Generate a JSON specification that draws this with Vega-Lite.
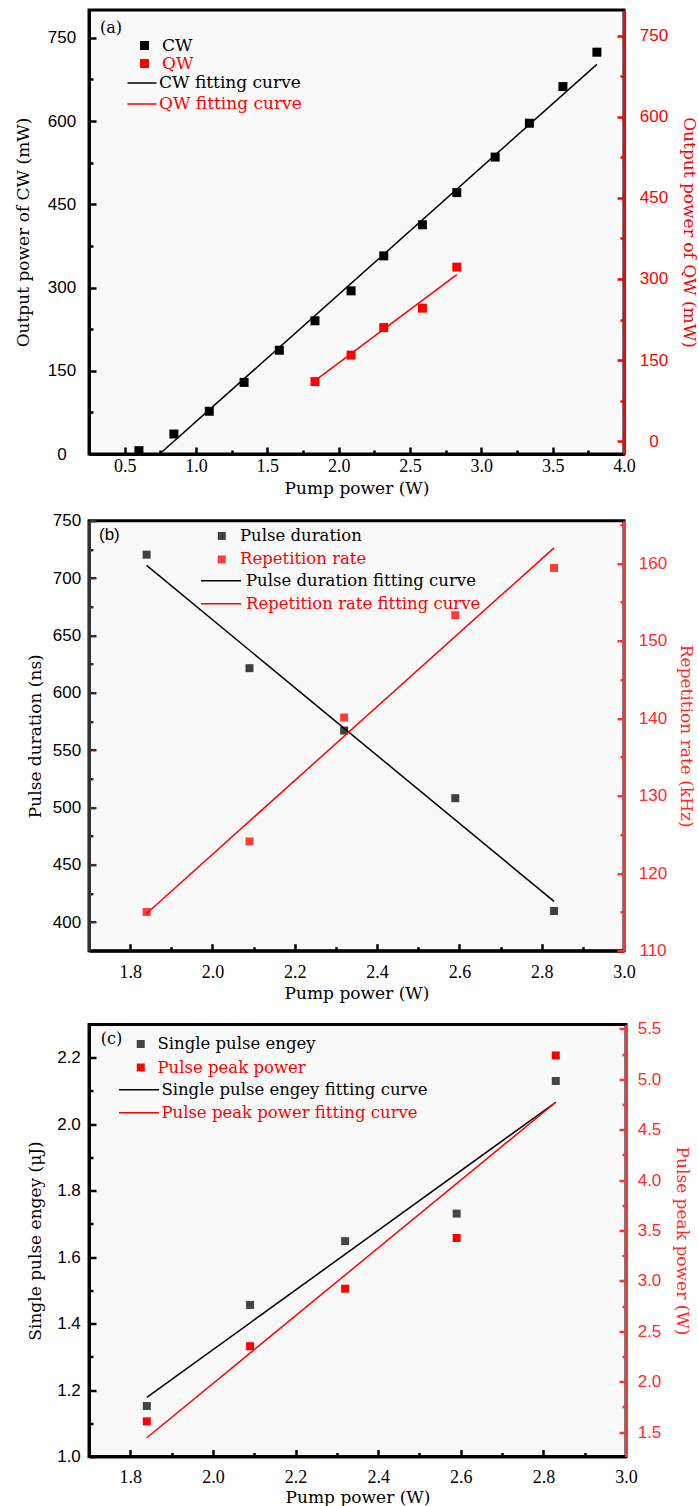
{
  "$schema": "https://vega.github.io/schema/vega-lite/v6.json",
  "background": "#ffffff",
  "padding": {"left": 12, "top": 8, "right": 0, "bottom": 0},
  "config": {
    "view": {"fill": "#f9f9f9", "stroke": "#000000", "strokeWidth": 3},
    "axis": {"grid": false, "ticks": true, "zindex": 1, "tickOpacity": 1, "labelFlush": false, "labelOverlap": false, "labelBound": false, "labelLimit": 400},
    "legend": {"padding": 0, "labelLimit": 400}
  },
  "datasets": {
    "a_cw": [
      {"pump": 0.6, "power": 6, "series": "CW"},
      {"pump": 0.845, "power": 36, "series": "CW"},
      {"pump": 1.093, "power": 77, "series": "CW"},
      {"pump": 1.337, "power": 129, "series": "CW"},
      {"pump": 1.584, "power": 187, "series": "CW"},
      {"pump": 1.834, "power": 240, "series": "CW"},
      {"pump": 2.087, "power": 294, "series": "CW"},
      {"pump": 2.316, "power": 357, "series": "CW"},
      {"pump": 2.587, "power": 413, "series": "CW"},
      {"pump": 2.828, "power": 471, "series": "CW"},
      {"pump": 3.097, "power": 535, "series": "CW"},
      {"pump": 3.337, "power": 596, "series": "CW"},
      {"pump": 3.572, "power": 662, "series": "CW"},
      {"pump": 3.81, "power": 724, "series": "CW"}
    ],
    "a_cwfit": [
      {"pump": 0.745, "power": 0, "series": "CW fitting curve"},
      {"pump": 3.81, "power": 702, "series": "CW fitting curve"}
    ],
    "a_qw": [
      {"pump": 1.834, "power": 110, "series": "QW"},
      {"pump": 2.087, "power": 159, "series": "QW"},
      {"pump": 2.316, "power": 210, "series": "QW"},
      {"pump": 2.587, "power": 246, "series": "QW"},
      {"pump": 2.828, "power": 322, "series": "QW"}
    ],
    "a_qwfit": [
      {"pump": 1.834, "power": 112, "series": "QW fitting curve"},
      {"pump": 2.828, "power": 308, "series": "QW fitting curve"}
    ],
    "b_pd": [
      {"pump": 1.84, "value": 720.4, "series": "Pulse duration"},
      {"pump": 2.09, "value": 621.4, "series": "Pulse duration"},
      {"pump": 2.32, "value": 567, "series": "Pulse duration"},
      {"pump": 2.59, "value": 508, "series": "Pulse duration"},
      {"pump": 2.83, "value": 409.6, "series": "Pulse duration"}
    ],
    "b_pdfit": [
      {"pump": 1.84, "value": 711, "series": "Pulse duration fitting curve"},
      {"pump": 2.83, "value": 418, "series": "Pulse duration fitting curve"}
    ],
    "b_rr": [
      {"pump": 1.84, "value": 115, "series": "Repetition rate"},
      {"pump": 2.09, "value": 124.1, "series": "Repetition rate"},
      {"pump": 2.32, "value": 140.1, "series": "Repetition rate"},
      {"pump": 2.59, "value": 153.3, "series": "Repetition rate"},
      {"pump": 2.83, "value": 159.4, "series": "Repetition rate"}
    ],
    "b_rrfit": [
      {"pump": 1.84, "value": 114.8, "series": "Repetition rate fitting curve"},
      {"pump": 2.83, "value": 162, "series": "Repetition rate fitting curve"}
    ],
    "c_e": [
      {"pump": 1.84, "value": 1.152, "series": "Single pulse engey"},
      {"pump": 2.09, "value": 1.456, "series": "Single pulse engey"},
      {"pump": 2.32, "value": 1.648, "series": "Single pulse engey"},
      {"pump": 2.59, "value": 1.731, "series": "Single pulse engey"},
      {"pump": 2.83, "value": 2.13, "series": "Single pulse engey"}
    ],
    "c_efit": [
      {"pump": 1.84, "value": 1.178, "series": "Single pulse engey fitting curve"},
      {"pump": 2.83, "value": 2.066, "series": "Single pulse engey fitting curve"}
    ],
    "c_p": [
      {"pump": 1.84, "value": 1.606, "series": "Pulse peak power"},
      {"pump": 2.09, "value": 2.351, "series": "Pulse peak power"},
      {"pump": 2.32, "value": 2.922, "series": "Pulse peak power"},
      {"pump": 2.59, "value": 3.425, "series": "Pulse peak power"},
      {"pump": 2.83, "value": 5.236, "series": "Pulse peak power"}
    ],
    "c_pfit": [
      {"pump": 1.84, "value": 1.443, "series": "Pulse peak power fitting curve"},
      {"pump": 2.83, "value": 4.772, "series": "Pulse peak power fitting curve"}
    ]
  },
  "bounds": "flush",
  "spacing": 66.7,
  "resolve": {"scale": {"fill": "independent", "stroke": "independent"}},
  "vconcat": [
    {
      "width": 535,
      "height": 444,
      "title": {"text": "(a)", "anchor": "start", "frame": "group", "orient": "top", "offset": -34, "dx": 11, "baseline": "middle", "font": "DejaVu Serif", "fontSize": 16, "fontWeight": "normal", "color": "#000000"},
      "resolve": {"scale": {"y": "independent"}},
      "encoding": {
        "x": {"field": "pump", "type": "quantitative", "scale": {"domain": [0.25, 4.0], "nice": false, "zero": false},
          "axis": {
            "orient": "bottom", "ticks": true, "zindex": 1,
            "values": [0.5, 0.75, 1, 1.25, 1.5, 1.75, 2, 2.25, 2.5, 2.75, 3, 3.25, 3.5, 3.75, 4],
            "labelExpr": "abs(datum.value*2-round(datum.value*2))<0.001 ? format(datum.value,'.1f') : ''",
            "tickSize": {"condition": {"test": "abs(datum.value*2-round(datum.value*2))<0.001", "value": -7}, "value": -4},
            "tickWidth": 2.5, "tickColor": "#000000", "domainColor": "#000000", "domainWidth": 3,
            "labelPadding": 10.7, "labelFont": "Liberation Serif", "labelFontSize": 18, "labelColor": "#000000",
            "title": "Pump power (W)", "titleFont": "DejaVu Serif", "titleFontSize": 17, "titleFontWeight": "normal", "titleColor": "#000000", "titlePadding": 2
          }}
      },
      "layer": [
        {
          "encoding": {
            "y": {"field": "power", "type": "quantitative", "scale": {"domain": [0, 800], "nice": false, "zero": false},
              "axis": {
                "orient": "left", "ticks": true, "zindex": 1,
                "values": [0, 75, 150, 225, 300, 375, 450, 525, 600, 675, 750],
                "labelExpr": "datum.value % 150 === 0 ? datum.label : ''",
                "tickSize": {"condition": {"test": "datum.value % 150 === 0", "value": -7}, "value": -4},
                "tickWidth": 2.5, "tickColor": "#000000", "domainColor": "#000000", "domainWidth": 3,
                "labelAlign": "center", "labelPadding": 34.5, "labelFont": "Liberation Sans", "labelFontSize": 17, "labelColor": "#000000",
                "title": "Output power of CW (mW)", "titleFont": "DejaVu Serif", "titleFontSize": 17, "titleFontWeight": "normal", "titleColor": "#000000", "titlePadding": 15.3
              }}
          },
          "layer": [
            {"data": {"name": "a_cw"}, "mark": {"type": "point", "shape": "square", "filled": true, "size": 81, "opacity": 1},
              "encoding": {"fill": {"field": "series", "type": "nominal", "scale": {"domain": ["CW", "QW"], "range": ["#000000", "#ff0000"]},
                "legend": {"orient": "none", "legendX": 47, "legendY": 27, "title": null, "padding": 0, "symbolType": "square", "symbolSize": 81, "symbolStrokeWidth": 0, "labelFont": "DejaVu Serif", "labelFontSize": 17, "labelLimit": 400, "labelColor": {"expr": "datum.label == 'QW' ? '#ff0000' : '#000000'"}, "labelOffset": 9, "rowPadding": 0, "direction": "vertical"}}}},
            {"data": {"name": "a_cwfit"}, "mark": {"type": "line", "strokeWidth": 1.5},
              "encoding": {"stroke": {"field": "series", "type": "nominal", "scale": {"domain": ["CW fitting curve", "QW fitting curve"], "range": ["#000000", "#ff0000"]},
                "legend": {"orient": "none", "legendX": 44.5, "legendY": 64.5, "title": null, "padding": 0, "symbolType": "M-2.07,0H2.07", "symbolSize": 196, "symbolStrokeWidth": 1.5, "labelFont": "DejaVu Serif", "labelFontSize": 17, "labelLimit": 400, "labelColor": {"expr": "datum.label == 'QW fitting curve' ? '#ff0000' : '#000000'"}, "labelOffset": 8.5, "rowPadding": 3, "direction": "vertical"}}}}
          ]
        },
        {
          "encoding": {
            "y": {"field": "power", "type": "quantitative", "scale": {"domain": [-24, 798], "nice": false, "zero": false},
              "axis": {
                "orient": "right", "ticks": true, "zindex": 1,
                "values": [0, 75, 150, 225, 300, 375, 450, 525, 600, 675, 750],
                "labelExpr": "datum.value % 150 === 0 ? datum.label : ''",
                "tickSize": {"condition": {"test": "datum.value % 150 === 0", "value": -7}, "value": -4},
                "tickWidth": 2.5, "tickColor": "#ff0000", "domainColor": "#ff0000", "domainWidth": 3,
                "labelAlign": "center", "labelPadding": 36.5, "labelFont": "Liberation Sans", "labelFontSize": 17, "labelColor": "#ff0000",
                "title": "Output power of QW (mW)", "titleFont": "DejaVu Serif", "titleFontSize": 17, "titleFontWeight": "normal", "titleColor": "#ff0000", "titlePadding": 12
              }}
          },
          "layer": [
            {"data": {"name": "a_qw"}, "mark": {"type": "point", "shape": "square", "filled": true, "size": 81, "opacity": 1},
              "encoding": {"fill": {"field": "series", "type": "nominal", "scale": {"domain": ["CW", "QW"], "range": ["#000000", "#ff0000"]},
                "legend": {"orient": "none", "legendX": 47, "legendY": 27, "title": null, "padding": 0, "symbolType": "square", "symbolSize": 81, "symbolStrokeWidth": 0, "labelFont": "DejaVu Serif", "labelFontSize": 17, "labelLimit": 400, "labelColor": {"expr": "datum.label == 'QW' ? '#ff0000' : '#000000'"}, "labelOffset": 9, "rowPadding": 0, "direction": "vertical"}}}},
            {"data": {"name": "a_qwfit"}, "mark": {"type": "line", "strokeWidth": 1.5},
              "encoding": {"stroke": {"field": "series", "type": "nominal", "scale": {"domain": ["CW fitting curve", "QW fitting curve"], "range": ["#000000", "#ff0000"]},
                "legend": {"orient": "none", "legendX": 44.5, "legendY": 64.5, "title": null, "padding": 0, "symbolType": "M-2.07,0H2.07", "symbolSize": 196, "symbolStrokeWidth": 1.5, "labelFont": "DejaVu Serif", "labelFontSize": 17, "labelLimit": 400, "labelColor": {"expr": "datum.label == 'QW fitting curve' ? '#ff0000' : '#000000'"}, "labelOffset": 8.5, "rowPadding": 3, "direction": "vertical"}}}}
          ]
        }
      ]
    },
    {
      "bounds": "flush",
      "spacing": 73.8,
      "resolve": {"scale": {"fill": "independent", "stroke": "independent"}},
      "vconcat": [
        {
          "width": 535,
          "height": 430,
          "title": {"text": "(b)", "anchor": "start", "frame": "group", "orient": "top", "offset": -40.3, "dx": 10, "baseline": "middle", "font": "Liberation Sans", "fontSize": 17, "fontWeight": "normal", "color": "#000000"},
          "resolve": {"scale": {"y": "independent"}},
          "encoding": {
            "x": {"field": "pump", "type": "quantitative", "scale": {"domain": [1.7, 3.0], "nice": false, "zero": false},
              "axis": {
                "orient": "bottom", "ticks": true, "zindex": 1,
                "values": [1.8, 1.9, 2.0, 2.1, 2.2, 2.3, 2.4, 2.5, 2.6, 2.7, 2.8, 2.9, 3.0],
                "labelExpr": "abs(datum.value*5-round(datum.value*5))<0.001 ? format(datum.value,'.1f') : ''",
                "tickSize": {"condition": {"test": "abs(datum.value*5-round(datum.value*5))<0.001", "value": -7}, "value": -4},
                "tickWidth": 2.5, "tickColor": "#000000", "domainColor": "#000000", "domainWidth": 3,
                "labelPadding": 19.7, "labelFont": "Liberation Serif", "labelFontSize": 18, "labelColor": "#000000",
                "title": "Pump power (W)", "titleFont": "DejaVu Serif", "titleFontSize": 17, "titleFontWeight": "normal", "titleColor": "#000000", "titlePadding": 1.5
              }}
          },
          "layer": [
            {
              "encoding": {
                "y": {"field": "value", "type": "quantitative", "scale": {"domain": [375, 750], "nice": false, "zero": false},
                  "axis": {
                    "orient": "left", "ticks": true, "zindex": 1,
                    "values": [400, 425, 450, 475, 500, 525, 550, 575, 600, 625, 650, 675, 700, 725, 750],
                    "labelExpr": "datum.value % 50 === 0 ? datum.label : ''",
                    "tickSize": {"condition": {"test": "datum.value % 50 === 0", "value": -7}, "value": -4},
                    "tickWidth": 2.5, "tickColor": "#333333", "domainColor": "#333333", "domainWidth": 3,
                    "labelAlign": "center", "labelPadding": 29.5, "labelFont": "Liberation Sans", "labelFontSize": 17, "labelColor": "#000000",
                    "title": "Pulse duration (ns)", "titleFont": "DejaVu Serif", "titleFontSize": 17, "titleFontWeight": "normal", "titleColor": "#000000", "titlePadding": 8.3
                  }}
              },
              "layer": [
                {"data": {"name": "b_pd"}, "mark": {"type": "point", "shape": "square", "filled": true, "size": 64, "opacity": 1},
                  "encoding": {"fill": {"field": "series", "type": "nominal", "scale": {"domain": ["Pulse duration", "Repetition rate"], "range": ["#404040", "#ff3b3b"]},
                    "legend": {"orient": "none", "legendX": 124.5, "legendY": 7, "title": null, "padding": 0, "symbolType": "square", "symbolSize": 64, "symbolStrokeWidth": 0, "labelFont": "DejaVu Serif", "labelFontSize": 16.5, "labelLimit": 400, "labelColor": {"expr": "datum.label == 'Repetition rate' ? '#ff0000' : '#000000'"}, "labelOffset": 10, "rowPadding": 6.5, "direction": "vertical"}}}},
                {"data": {"name": "b_pdfit"}, "mark": {"type": "line", "strokeWidth": 1.5},
                  "encoding": {"stroke": {"field": "series", "type": "nominal", "scale": {"domain": ["Pulse duration fitting curve", "Repetition rate fitting curve"], "range": ["#000000", "#ff0000"]},
                    "legend": {"orient": "none", "legendX": 121, "legendY": 49, "title": null, "padding": 0, "symbolType": "M-2,0H2", "symbolSize": 400, "symbolStrokeWidth": 1.5, "labelFont": "DejaVu Serif", "labelFontSize": 16.5, "labelLimit": 400, "labelColor": {"expr": "datum.label == 'Repetition rate fitting curve' ? '#ff0000' : '#000000'"}, "labelOffset": 14, "rowPadding": 3, "direction": "vertical"}}}}
              ]
            },
            {
              "encoding": {
                "y": {"field": "value", "type": "quantitative", "scale": {"domain": [110, 165.5], "nice": false, "zero": false},
                  "axis": {
                    "orient": "right", "ticks": true, "zindex": 1,
                    "values": [110, 115, 120, 125, 130, 135, 140, 145, 150, 155, 160, 165],
                    "labelExpr": "datum.value % 10 === 0 ? datum.label : ''",
                    "tickSize": {"condition": {"test": "datum.value % 10 === 0", "value": -7}, "value": -4},
                    "tickWidth": 2.5, "tickColor": "#ff3535", "domainColor": "#ff3535", "domainWidth": 3,
                    "labelAlign": "center", "labelPadding": 35.5, "labelFont": "Liberation Sans", "labelFontSize": 17, "labelColor": "#ff2a2a",
                    "title": "Repetition rate (kHz)", "titleFont": "DejaVu Serif", "titleFontSize": 17, "titleFontWeight": "normal", "titleColor": "#ff2a2a", "titlePadding": 10.3
                  }}
              },
              "layer": [
                {"data": {"name": "b_rr"}, "mark": {"type": "point", "shape": "square", "filled": true, "size": 64, "opacity": 1},
                  "encoding": {"fill": {"field": "series", "type": "nominal", "scale": {"domain": ["Pulse duration", "Repetition rate"], "range": ["#404040", "#ff3b3b"]},
                    "legend": {"orient": "none", "legendX": 124.5, "legendY": 7, "title": null, "padding": 0, "symbolType": "square", "symbolSize": 64, "symbolStrokeWidth": 0, "labelFont": "DejaVu Serif", "labelFontSize": 16.5, "labelLimit": 400, "labelColor": {"expr": "datum.label == 'Repetition rate' ? '#ff0000' : '#000000'"}, "labelOffset": 10, "rowPadding": 6.5, "direction": "vertical"}}}},
                {"data": {"name": "b_rrfit"}, "mark": {"type": "line", "strokeWidth": 1.5},
                  "encoding": {"stroke": {"field": "series", "type": "nominal", "scale": {"domain": ["Pulse duration fitting curve", "Repetition rate fitting curve"], "range": ["#000000", "#ff0000"]},
                    "legend": {"orient": "none", "legendX": 121, "legendY": 49, "title": null, "padding": 0, "symbolType": "M-2,0H2", "symbolSize": 400, "symbolStrokeWidth": 1.5, "labelFont": "DejaVu Serif", "labelFontSize": 16.5, "labelLimit": 400, "labelColor": {"expr": "datum.label == 'Repetition rate fitting curve' ? '#ff0000' : '#000000'"}, "labelOffset": 14, "rowPadding": 3, "direction": "vertical"}}}}
              ]
            }
          ]
        },
        {
          "width": 537,
          "height": 432,
          "title": {"text": "(c)", "anchor": "start", "frame": "group", "orient": "top", "offset": -34.7, "dx": 11.7, "baseline": "middle", "font": "DejaVu Serif", "fontSize": 16, "fontWeight": "normal", "color": "#000000"},
          "resolve": {"scale": {"y": "independent"}},
          "encoding": {
            "x": {"field": "pump", "type": "quantitative", "scale": {"domain": [1.7, 3.0], "nice": false, "zero": false},
              "axis": {
                "orient": "bottom", "ticks": true, "zindex": 1,
                "values": [1.8, 1.9, 2.0, 2.1, 2.2, 2.3, 2.4, 2.5, 2.6, 2.7, 2.8, 2.9, 3.0],
                "labelExpr": "abs(datum.value*5-round(datum.value*5))<0.001 ? format(datum.value,'.1f') : ''",
                "tickSize": {"condition": {"test": "abs(datum.value*5-round(datum.value*5))<0.001", "value": -7}, "value": -4},
                "tickWidth": 2.5, "tickColor": "#000000", "domainColor": "#000000", "domainWidth": 3,
                "labelPadding": 19, "labelFont": "Liberation Serif", "labelFontSize": 18, "labelColor": "#000000",
                "title": "Pump power (W)", "titleFont": "DejaVu Serif", "titleFontSize": 17, "titleFontWeight": "normal", "titleColor": "#000000", "titlePadding": 0
              }}
          },
          "layer": [
            {
              "encoding": {
                "y": {"field": "value", "type": "quantitative", "scale": {"domain": [1.0, 2.3], "nice": false, "zero": false},
                  "axis": {
                    "orient": "left", "ticks": true, "zindex": 1,
                    "values": [1.0, 1.1, 1.2, 1.3, 1.4, 1.5, 1.6, 1.7, 1.8, 1.9, 2.0, 2.1, 2.2],
                    "labelExpr": "abs(datum.value*5-round(datum.value*5))<0.001 ? format(datum.value,'.1f') : ''",
                    "tickSize": {"condition": {"test": "abs(datum.value*5-round(datum.value*5))<0.001", "value": -7}, "value": -4},
                    "tickWidth": 2.5, "tickColor": "#000000", "domainColor": "#000000", "domainWidth": 3,
                    "labelAlign": "center", "labelPadding": 27.5, "labelFont": "Liberation Sans", "labelFontSize": 17, "labelColor": "#000000",
                    "title": "Single pulse engey (μJ)", "titleFont": "DejaVu Serif", "titleFontSize": 17, "titleFontWeight": "normal", "titleColor": "#000000", "titlePadding": 12.5
                  }}
              },
              "layer": [
                {"data": {"name": "c_e"}, "mark": {"type": "point", "shape": "square", "filled": true, "size": 64, "opacity": 1},
                  "encoding": {"fill": {"field": "series", "type": "nominal", "scale": {"domain": ["Single pulse engey", "Pulse peak power"], "range": ["#454545", "#ff0000"]},
                    "legend": {"orient": "none", "legendX": 43.5, "legendY": 11.25, "title": null, "padding": 0, "symbolType": "square", "symbolSize": 64, "symbolStrokeWidth": 0, "labelFont": "DejaVu Serif", "labelFontSize": 16.5, "labelLimit": 400, "labelColor": {"expr": "datum.label == 'Pulse peak power' ? '#ff0000' : '#000000'"}, "labelOffset": 8.5, "rowPadding": 6.5, "direction": "vertical"}}}},
                {"data": {"name": "c_efit"}, "mark": {"type": "line", "strokeWidth": 1.5},
                  "encoding": {"stroke": {"field": "series", "type": "nominal", "scale": {"domain": ["Single pulse engey fitting curve", "Pulse peak power fitting curve"], "range": ["#000000", "#ff0000"]},
                    "legend": {"orient": "none", "legendX": 39, "legendY": 54.3, "title": null, "padding": 0, "symbolType": "M-2,0H2", "symbolSize": 400, "symbolStrokeWidth": 1.5, "labelFont": "DejaVu Serif", "labelFontSize": 16.5, "labelLimit": 400, "labelColor": {"expr": "datum.label == 'Pulse peak power fitting curve' ? '#ff0000' : '#000000'"}, "labelOffset": 11.4, "rowPadding": 3, "direction": "vertical"}}}}
              ]
            },
            {
              "encoding": {
                "y": {"field": "value", "type": "quantitative", "scale": {"domain": [1.257, 5.543], "nice": false, "zero": false},
                  "axis": {
                    "orient": "right", "ticks": true, "zindex": 1,
                    "values": [1.5, 1.75, 2.0, 2.25, 2.5, 2.75, 3.0, 3.25, 3.5, 3.75, 4.0, 4.25, 4.5, 4.75, 5.0, 5.25, 5.5],
                    "labelExpr": "abs(datum.value*2-round(datum.value*2))<0.001 ? format(datum.value,'.1f') : ''",
                    "tickSize": {"condition": {"test": "abs(datum.value*2-round(datum.value*2))<0.001", "value": -7}, "value": -4},
                    "tickWidth": 2.5, "tickColor": "#ff3535", "domainColor": "#ff3535", "domainWidth": 3,
                    "labelAlign": "center", "labelPadding": 30, "labelFont": "Liberation Sans", "labelFontSize": 17, "labelColor": "#ff2a2a",
                    "title": "Pulse peak power (W)", "titleFont": "DejaVu Serif", "titleFontSize": 17, "titleFontWeight": "normal", "titleColor": "#ff2a2a", "titlePadding": 11.7
                  }}
              },
              "layer": [
                {"data": {"name": "c_p"}, "mark": {"type": "point", "shape": "square", "filled": true, "size": 64, "opacity": 1},
                  "encoding": {"fill": {"field": "series", "type": "nominal", "scale": {"domain": ["Single pulse engey", "Pulse peak power"], "range": ["#454545", "#ff0000"]},
                    "legend": {"orient": "none", "legendX": 43.5, "legendY": 11.25, "title": null, "padding": 0, "symbolType": "square", "symbolSize": 64, "symbolStrokeWidth": 0, "labelFont": "DejaVu Serif", "labelFontSize": 16.5, "labelLimit": 400, "labelColor": {"expr": "datum.label == 'Pulse peak power' ? '#ff0000' : '#000000'"}, "labelOffset": 8.5, "rowPadding": 6.5, "direction": "vertical"}}}},
                {"data": {"name": "c_pfit"}, "mark": {"type": "line", "strokeWidth": 1.5},
                  "encoding": {"stroke": {"field": "series", "type": "nominal", "scale": {"domain": ["Single pulse engey fitting curve", "Pulse peak power fitting curve"], "range": ["#000000", "#ff0000"]},
                    "legend": {"orient": "none", "legendX": 39, "legendY": 54.3, "title": null, "padding": 0, "symbolType": "M-2,0H2", "symbolSize": 400, "symbolStrokeWidth": 1.5, "labelFont": "DejaVu Serif", "labelFontSize": 16.5, "labelLimit": 400, "labelColor": {"expr": "datum.label == 'Pulse peak power fitting curve' ? '#ff0000' : '#000000'"}, "labelOffset": 11.4, "rowPadding": 3, "direction": "vertical"}}}}
              ]
            }
          ]
        }
      ]
    }
  ]
}
